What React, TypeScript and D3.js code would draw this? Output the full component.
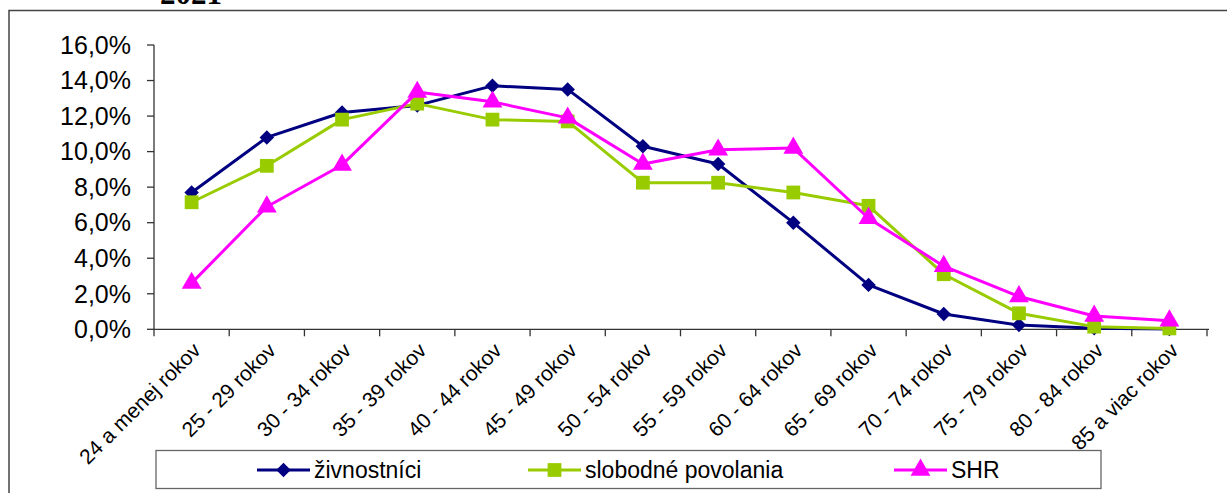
import React, { useEffect } from "react";
import * as d3 from "d3";

const categories = [
  "24 a menej rokov", "25 - 29 rokov", "30 - 34 rokov", "35 - 39 rokov",
  "40 - 44 rokov", "45 - 49 rokov", "50 - 54 rokov", "55 - 59 rokov",
  "60 - 64 rokov", "65 - 69 rokov", "70 - 74 rokov", "75 - 79 rokov",
  "80 - 84 rokov", "85 a viac rokov",
];
const zivnostnici = [7.7, 10.8, 12.2, 12.6, 13.7, 13.5, 10.3, 9.3, 6.0, 2.5, 0.86, 0.24, 0.06, 0.02];
const slobodne = [7.15, 9.2, 11.8, 12.7, 11.8, 11.7, 8.25, 8.25, 7.7, 6.95, 3.1, 0.9, 0.15, 0.05];
const shr = [2.6, 6.9, 9.25, 13.35, 12.8, 11.9, 9.3, 10.1, 10.2, 6.25, 3.55, 1.85, 0.75, 0.48];
const yTicks = [0, 2, 4, 6, 8, 10, 12, 14, 16];
const seriesNames = ["živnostníci", "slobodné povolania", "SHR"];
const title = "2021";

const W = 1227, H = 493;
const left = 154, right = 1207, top = 45, bottom = 329.3;
const font = "Liberation Sans, Arial, sans-serif";

const colors = ["#000080", "#99CC00", "#FF00FF"];
const shapes = [d3.symbolSquare, d3.symbolSquare, d3.symbolTriangle];
const sizes = [105, 190, 170];
const rotations = [45, 0, 0];
const legendX = [257, 528, 894];

export default function App() {
  useEffect(() => {
    document.body.style.margin = "0";
  }, []);
  const x = d3.scaleBand<string>().domain(categories).range([left, right]).padding(0);
  const cx = (c: string) => (x(c) as number) + x.bandwidth() / 2;
  const y = d3.scaleLinear().domain([0, 16]).range([bottom, top]);
  const line = d3.line<number>().x((_, i) => cx(categories[i])).y((d) => y(d));
  const data = [zivnostnici, slobodne, shr];
  const fmt = (v: number) => d3.format(".1f")(v).replace(".", ",") + "%";
  const sym = (i: number) => d3.symbol().type(shapes[i]).size(sizes[i])() as string;

  return (
    <svg width={W} height={H} style={{ display: "block", background: "#fff" }}>
      <rect x={0} y={0} width={W} height={H} fill="#fff" />
      <text x={191} y={4} textAnchor="middle" fontFamily="Liberation Serif, Times New Roman, serif" fontWeight="bold" fontSize={31} fill="#000">{title}</text>
      <rect x={9} y={10.5} width={W + 20} height={H + 20} fill="none" stroke="#444" strokeWidth={1.5} />
      {/* y axis */}
      <line x1={left} x2={left} y1={top} y2={bottom} stroke="#333" strokeWidth={1.3} />
      {yTicks.map((t) => (
        <g key={t}>
          <line x1={left - 7} x2={left} y1={y(t)} y2={y(t)} stroke="#333" strokeWidth={1.3} />
          <text x={131} y={y(t)} dy="0.35em" textAnchor="end" fontFamily={font} fontSize={25} fill="#000">{fmt(t)}</text>
        </g>
      ))}
      {/* x axis */}
      <line x1={left} x2={right + 2} y1={bottom} y2={bottom} stroke="#333" strokeWidth={1.3} />
      {categories.map((c) => (
        <line key={"t" + c} x1={x(c) as number} x2={x(c) as number} y1={bottom} y2={bottom + 7} stroke="#333" strokeWidth={1.3} />
      ))}
      <line x1={right} x2={right} y1={bottom} y2={bottom + 7} stroke="#333" strokeWidth={1.3} />
      {categories.map((c) => (
        <text key={"l" + c} transform={`translate(${cx(c)},${bottom + 12}) rotate(-45)`} textAnchor="end" dy="0.7em" fontFamily={font} fontSize={21} fill="#000">{c}</text>
      ))}
      {/* series */}
      {data.map((s, si) => (
        <g key={si}>
          <path d={line(s) as string} fill="none" stroke={colors[si]} strokeWidth={3} strokeLinejoin="round" />
          {s.map((v, i) => (
            <path key={i} d={sym(si)} transform={`translate(${cx(categories[i])},${y(v)}) rotate(${rotations[si]})`} fill={colors[si]} />
          ))}
        </g>
      ))}
      {/* legend */}
      <rect x={156} y={450.5} width={945} height={38} fill="#fff" stroke="#666" strokeWidth={1.3} />
      {seriesNames.map((n, i) => (
        <g key={n}>
          <line x1={legendX[i]} x2={legendX[i] + 53} y1={470} y2={470} stroke={colors[i]} strokeWidth={3} />
          <path d={sym(i)} transform={`translate(${legendX[i] + 26.5},470) rotate(${rotations[i]})`} fill={colors[i]} />
          <text x={legendX[i] + 57} y={477.5} fontFamily={font} fontSize={23} fill="#000">{n}</text>
        </g>
      ))}
    </svg>
  );
}
